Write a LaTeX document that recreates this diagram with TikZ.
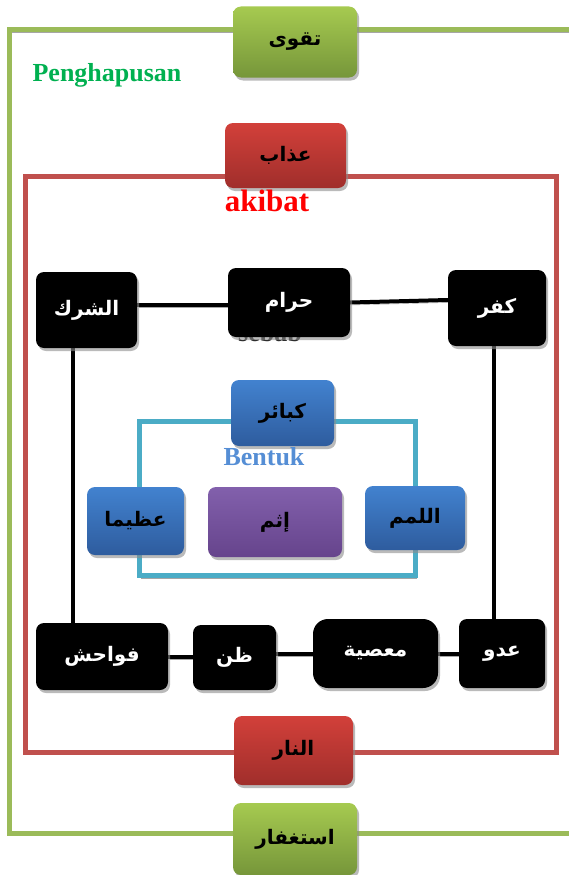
\documentclass[tikz,border=0pt]{standalone}
\usepackage{fontspec}
\setmainfont{Liberation Serif}
\newfontfamily\arabicfont[Script=Arabic]{DejaVu Sans}
\TeXXeTstate=1
\usepackage{tikz}
\usetikzlibrary{shadows,backgrounds,positioning}
\definecolor{FrameGreen}{HTML}{9BBB59}
\definecolor{FrameRed}{HTML}{C0504D}
\definecolor{LinkTeal}{HTML}{4BACC6}
\definecolor{GreenTop}{HTML}{A6CA50}
\definecolor{GreenBottom}{HTML}{76963A}
\definecolor{RedTop}{HTML}{D2403A}
\definecolor{RedBottom}{HTML}{A02E2B}
\definecolor{BlueTop}{HTML}{4282CF}
\definecolor{BlueBottom}{HTML}{2E5C9E}
\definecolor{PurpleTop}{HTML}{8260AC}
\definecolor{PurpleBottom}{HTML}{66448C}
\definecolor{LabelGreen}{HTML}{00B050}
\definecolor{LabelBlue}{HTML}{558ED5}
\newcommand{\artext}[1]{{\arabicfont\bfseries\beginR #1\endR}}

\begin{document}
\begin{tikzpicture}[x=1pt,y=-1pt,
  box/.style={rounded corners=8pt,inner sep=2pt,align=center,
    font=\fontsize{20}{24}\selectfont,
    drop shadow={shadow xshift=2pt,shadow yshift=-3pt,fill=black!45,opacity=0.6}},
  greenbox/.style={box,top color=GreenTop,bottom color=GreenBottom},
  redbox/.style={box,top color=RedTop,bottom color=RedBottom},
  bluebox/.style={box,top color=BlueTop,bottom color=BlueBottom},
  purplebox/.style={box,top color=PurpleTop,bottom color=PurpleBottom},
  darkbox/.style={box,fill=black,text=white},
  shade line/.style={preaction={draw=black!35,transform canvas={shift={(1.5pt,-2.5pt)}}}},
  frame/.style={line width=5pt,shade line},
  link/.style={line width=4pt,shade line},
  tlink/.style={line width=5pt,draw=LinkTeal,shade line},
  tag/.style={font=\bfseries\fontsize{26}{30}\selectfont}
]
  \useasboundingbox (0,0) rectangle (568,875);

  \coordinate (gtr) at (575,30);
  \coordinate (gtl) at (9,30);
  \coordinate (gbl) at (9,833);
  \coordinate (gbr) at (575,833);
  \draw[frame,FrameGreen] (gtr) -- (gtl) -- (gbl) -- (gbr);

  \coordinate (rtl) at (25,176);
  \coordinate (rtr) at (556,176);
  \coordinate (rbr) at (556,752);
  \coordinate (rbl) at (25,752);
  \draw[frame,FrameRed] (rtl) -- (rtr) -- (rbr) -- (rbl) -- cycle;

  \node[tag,text=LabelGreen] (hapus) at (107,75) {Penghapusan};
  \node[tag,text=black!85] (sebab) at (270,333) {sebab};

  \node[greenbox,minimum width=124pt,minimum height=71pt] (taqwa) at (295,42) {\artext{تقوى}};
  \node[redbox,minimum width=121pt,minimum height=65pt] (adhab) at (285.5,155.5) {\artext{عذاب}};
  \node[tag,text=red,font=\bfseries\fontsize{31}{34}\selectfont] (akibat) at (267,201) {akibat};

  \node[darkbox,minimum width=101pt,minimum height=76pt] (shirk) at (86.5,310) {\artext{الشرك}};
  \node[darkbox,minimum width=122pt,minimum height=69pt] (haram) at (289,302.5) {\artext{حرام}};
  \node[darkbox,minimum width=98pt,minimum height=76pt] (kufr) at (497,308) {\artext{كفر}};

  \node[bluebox,minimum width=103pt,minimum height=66pt] (kabair) at (282.5,413) {\artext{كبائر}};
  \node[tag,text=LabelBlue] (bentuk) at (264,457) {Bentuk};
  \node[bluebox,minimum width=97pt,minimum height=68pt] (azima) at (135.5,521) {\artext{عظيما}};
  \node[purplebox,minimum width=134pt,minimum height=70pt] (ithm) at (275,522) {\artext{إثم}};
  \node[bluebox,minimum width=100pt,minimum height=64pt] (lamam) at (415,518) {\artext{اللمم}};

  \node[darkbox,minimum width=132pt,minimum height=67pt] (fawahish) at (102,656.5) {\artext{فواحش}};
  \node[darkbox,minimum width=83pt,minimum height=65pt] (zann) at (234.5,657.5) {\artext{ظن}};
  \node[darkbox,rounded corners=15pt,minimum width=125pt,minimum height=69pt] (masiya) at (375.5,653.5) {\artext{معصية}};
  \node[darkbox,minimum width=86pt,minimum height=69pt] (aduw) at (502,653.5) {\artext{عدو}};

  \node[redbox,minimum width=119pt,minimum height=69pt] (nar) at (293.5,750.5) {\artext{النار}};
  \node[greenbox,minimum width=124pt,minimum height=72pt] (istighfar) at (295,839) {\artext{استغفار}};

  \begin{scope}[on background layer]
    \draw[link] ([yshift=5pt]shirk.east) -- ([yshift=5pt]shirk.east -| haram.west);
    \draw[link] (haram.east) -- ([yshift=8pt]kufr.west);
    \draw[link] ([xshift=-14pt]shirk.south) -- ([xshift=-14pt]shirk.south |- fawahish.north);
    \draw[link] ([xshift=-3pt]kufr.south) -- ([xshift=-3pt]kufr.south |- aduw.north);
    \draw[link] (fawahish.east) -- (fawahish.east -| zann.west);
    \draw[link] (zann.east |- masiya.west) -- (masiya.west);
    \draw[link] (masiya) -- (aduw);
    \draw[tlink] ([yshift=-8pt]kabair.west) -| ([xshift=4pt]azima.north);
    \draw[tlink] ([yshift=-8pt]kabair.east) -| (lamam.north);
    \draw[tlink] ([xshift=4pt]azima.south) -- ++(0,20) -| (lamam.south);
  \end{scope}
\end{tikzpicture}
\end{document}
